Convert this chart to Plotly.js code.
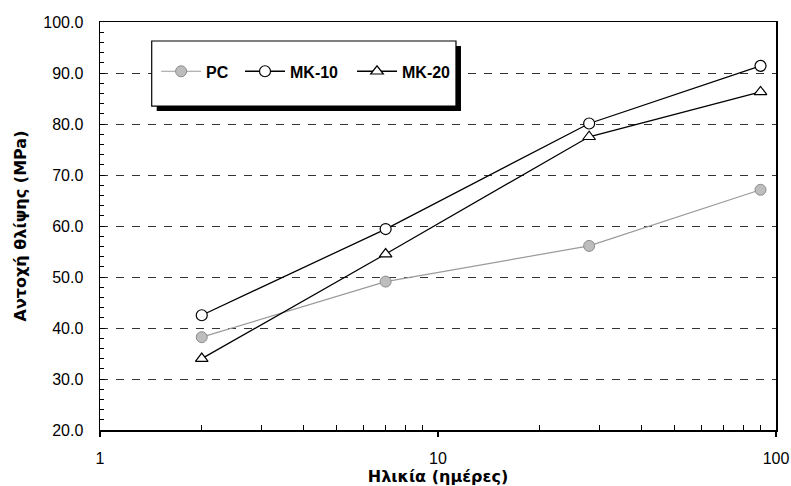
<!DOCTYPE html>
<html>
<head>
<meta charset="utf-8">
<script src="https://cdn.plot.ly/plotly-3.0.1.min.js"></script>
<style>html,body{margin:0;padding:0;background:#fff;}#chart{width:791px;height:486px;}</style>
</head>
<body>
<div id="chart"></div>
<script>
// Data
const ages = [2, 7, 28, 90];                 // Ηλικία (ημέρες)
const pcValues = [38.2, 49.1, 56.1, 67.1];   // PC
const mk10Values = [42.5, 59.4, 80.1, 91.4]; // MK-10
const mk20Values = [34.0, 54.5, 77.5, 86.3]; // MK-20
const seriesNames = ["PC", "MK-10", "MK-20"];
const yTickVals = [20, 30, 40, 50, 60, 70, 80, 90, 100];
const xTickVals = [1, 10, 100];
const xMinorVals = [2, 3, 4, 5, 6, 7, 8, 9, 20, 30, 40, 50, 60, 70, 80, 90];

const traces = [
  {
    x: ages, y: pcValues, name: seriesNames[0], type: 'scatter', mode: 'lines+markers', legend: 'legend',
    line: {color: '#9a9a9a', width: 1.2},
    marker: {symbol: 'circle', size: 11, color: '#bdbdbd', line: {color: '#8c8c8c', width: 1}}
  },
  {
    x: ages, y: mk10Values, name: seriesNames[1], type: 'scatter', mode: 'lines+markers', legend: 'legend2',
    line: {color: '#000', width: 1.3},
    marker: {symbol: 'circle', size: 11, color: '#fff', line: {color: '#000', width: 1.2}}
  },
  {
    x: ages, y: mk20Values, name: seriesNames[2], type: 'scatter', mode: 'lines+markers', legend: 'legend3',
    line: {color: '#000', width: 1.3},
    marker: {symbol: 'triangle-up', size: 11, color: '#fff', line: {color: '#000', width: 1.2}}
  }
];

const legendFont = {family: 'Liberation Sans, Arial, sans-serif', size: 16, color: '#000', weight: 'bold'};
function legendAt(x) {
  return {orientation: 'h', x: x, y: 0.879, xanchor: 'left', yanchor: 'middle',
          bgcolor: 'rgba(0,0,0,0)', borderwidth: 0, font: legendFont, itemwidth: 40};
}

const layout = {
  width: 791, height: 486,
  margin: {l: 100, r: 15, t: 22, b: 56},
  paper_bgcolor: '#fff', plot_bgcolor: '#fff',
  font: {family: 'Liberation Sans, Arial, sans-serif', color: '#000', size: 16},
  showlegend: true,
  legend: legendAt(0.083),
  legend2: legendAt(0.2071),
  legend3: legendAt(0.3728),
  xaxis: {
    type: 'log', range: [0, 2],
    tickmode: 'array', tickvals: xTickVals, ticktext: xTickVals.map(String),
    ticks: 'outside', ticklen: 5, tickwidth: 1.3, tickcolor: '#000',
    minor: {tickmode: 'array', tickvals: xMinorVals, ticks: 'inside', ticklen: 5, tickcolor: '#000', tickwidth: 1, showgrid: false},
    showgrid: false, zeroline: false,
    showline: true, linecolor: '#000', linewidth: 1.5, mirror: true,
    tickfont: {size: 16},
    ticklabelstandoff: 8,
    title: {text: 'Ηλικία (ημέρες)', font: {family: 'DejaVu Sans, sans-serif', size: 16, weight: 'bold'}, standoff: 4}
  },
  yaxis: {
    range: [20, 100],
    tickmode: 'array', tickvals: yTickVals, ticktext: yTickVals.map(v => v.toFixed(1)),
    ticks: 'inside', ticklen: 5, tickwidth: 1, tickcolor: '#000',
    minor: {dtick: 2, ticks: 'inside', ticklen: 4, tickcolor: '#000', tickwidth: 1, showgrid: false},
    showgrid: true, gridcolor: '#333', gridwidth: 1, griddash: '8px,8px',
    zeroline: false,
    showline: true, linecolor: '#000', linewidth: 1.5, mirror: true,
    tickfont: {size: 16},
    ticklabelstandoff: 12,
    title: {text: 'Αντοχή θλίψης (MPa)', font: {family: 'DejaVu Sans, sans-serif', size: 16, weight: 'bold'}, standoff: 12}
  },
  shapes: [
    // legend shadow
    {type: 'rect', xref: 'paper', yref: 'paper', x0: 0.0839, x1: 0.534, y0: 0.7819, y1: 0.941,
     fillcolor: '#000', line: {width: 0}, layer: 'above'},
    // legend box
    {type: 'rect', xref: 'paper', yref: 'paper', x0: 0.0765, x1: 0.5266, y0: 0.794, y1: 0.9534,
     fillcolor: '#fff', line: {color: '#000', width: 1.2}, layer: 'above'}
  ]
};

Plotly.newPlot('chart', traces, layout, {displayModeBar: false, staticPlot: true});
</script>
</body>
</html>
